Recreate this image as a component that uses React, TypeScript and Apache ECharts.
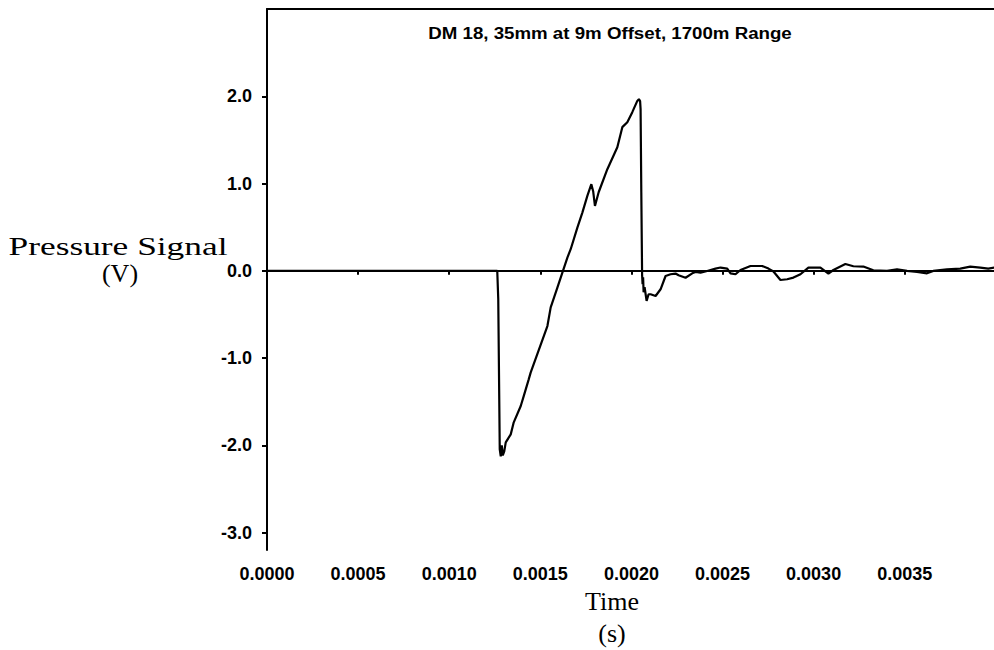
import React, { useEffect, useRef } from "react";
import * as echarts from "echarts";

const titleText = "DM 18, 35mm at 9m Offset, 1700m Range";
const yName = ["Pressure Signal", "(V)"];
const xName = ["Time", "(s)"];

const xTickValues = [0, 0.0005, 0.001, 0.0015, 0.002, 0.0025, 0.003, 0.0035];
const yTickValues = [-3, -2, -1, 0, 1, 2];

const timeS = [
  0, 0.0012637, 0.0012692, 0.0012747, 0.0012774, 0.0012829, 0.0012884, 0.0012939,
  0.0013021, 0.0013103, 0.0013377, 0.0013542, 0.0013926, 0.001409, 0.0014364,
  0.0014474, 0.0015389, 0.001557, 0.0015937, 0.0016486, 0.0016667, 0.0017034,
  0.0017308, 0.0017582, 0.0017801, 0.00179, 0.0017999, 0.0018202, 0.0018679,
  0.0019227, 0.0019501, 0.0019775, 0.0020049, 0.0020323, 0.0020411, 0.0020477,
  0.0020504, 0.0020543, 0.0020587, 0.0020614, 0.0020642, 0.0020669, 0.0020724,
  0.0020834, 0.0020943, 0.0021053, 0.0021327, 0.0021601, 0.0021875, 0.0022149,
  0.0022423, 0.0022588, 0.0022971, 0.0023339, 0.002352, 0.0023793, 0.0024161,
  0.0024616, 0.002489, 0.0025258, 0.0025439, 0.0025713, 0.0025987, 0.0026535,
  0.0027177, 0.0027522, 0.0027796, 0.002818, 0.0028547, 0.0028893, 0.0029277,
  0.0029715, 0.0030373, 0.0030812, 0.0031086, 0.0031743, 0.0032182, 0.003273,
  0.0033279, 0.003403, 0.0034578, 0.0035126, 0.0035675, 0.0036223, 0.0036568,
  0.0037319, 0.0038048, 0.0038597, 0.0039145, 0.0039584, 0.0039913,
];

const signalV = [
  0, 0, -0.327, -1.474, -2.047, -2.127, -2.001, -2.116,
  -2.07, -1.967, -1.875, -1.737, -1.55, -1.436, -1.244,
  -1.164, -0.633, -0.419, -0.193, 0.151, 0.247, 0.495,
  0.667, 0.858, 0.992, 0.912, 0.743, 0.9, 1.164,
  1.416, 1.646, 1.703, 1.818, 1.947, 1.967, 1.944,
  1.852, 0.9, -0.052, -0.155, -0.075, -0.247, -0.189,
  -0.346, -0.269, -0.269, -0.289, -0.212, -0.06, -0.04,
  -0.032, -0.052, -0.08, -0.029, -0.014, -0.021, -0.002,
  0.025, 0.037, 0.025, -0.029, -0.04, 0.009, 0.055,
  0.055, 0.025, -0.008, -0.106, -0.097, -0.078, -0.04,
  0.037, 0.037, -0.032, 0.009, 0.078, 0.052, 0.048,
  0.006, -0.002, 0.017, -0.002, -0.014, -0.029, -0.002,
  0.017, 0.025, 0.048, 0.037, 0.025, 0.037,
];

const X_MIN = 0;
const X_MAX = 0.00399;
const Y_MIN = -3.2;
const Y_MAX = 3.0;

export default function App() {
  const ref = useRef<HTMLDivElement>(null);

  useEffect(() => {
    const chart = echarts.init(ref.current!, null, { renderer: "svg" });
    const sans = "Liberation Sans, Arial, sans-serif";
    const serif = "Liberation Serif, Times New Roman, serif";
    const labelFont = {
      fontFamily: sans,
      fontWeight: "bold" as const,
      fontSize: 18,
      color: "#000",
    };
    const serifText = (text: string, x: number, y: number, scaleX: number) => ({
      type: "text",
      x,
      y,
      scaleX,
      style: {
        text,
        fontFamily: serif,
        fontSize: 26,
        fill: "#000",
        align: "center",
        verticalAlign: "middle",
      },
    });
    chart.setOption({
      animation: false,
      backgroundColor: "#fff",
      grid: { left: 267, top: 9, right: 0, bottom: 100, containLabel: false },
      xAxis: [
        {
          type: "value",
          min: X_MIN,
          max: X_MAX,
          position: "bottom",
          axisLine: { show: true, lineStyle: { color: "#000", width: 2 } },
          axisTick: {
            show: true,
            inside: false,
            length: 4,
            customValues: xTickValues,
            lineStyle: { color: "#000", width: 2 },
          },
          axisLabel: {
            ...labelFont,
            margin: 15,
            customValues: xTickValues,
            formatter: (v: number) => v.toFixed(4),
          },
          splitLine: { show: false },
        },
        {
          type: "value",
          min: X_MIN,
          max: X_MAX,
          position: "top",
          axisLine: { show: true, lineStyle: { color: "#000", width: 2 } },
          axisTick: { show: false },
          axisLabel: { show: false },
          splitLine: { show: false },
        },
      ],
      yAxis: {
        type: "value",
        min: Y_MIN,
        max: Y_MAX,
        axisLine: { show: true, lineStyle: { color: "#000", width: 2 } },
        axisTick: {
          show: true,
          inside: false,
          length: 5,
          customValues: yTickValues,
          lineStyle: { color: "#000", width: 2 },
        },
        axisLabel: {
          ...labelFont,
          margin: 15,
          customValues: yTickValues,
          formatter: (v: number) => v.toFixed(1),
        },
        splitLine: { show: false },
      },
      graphic: [
        {
          type: "text",
          x: 610,
          y: 33,
          scaleX: 1.1,
          style: {
            text: titleText,
            fontFamily: sans,
            fontWeight: "bold",
            fontSize: 17,
            fill: "#000",
            align: "center",
            verticalAlign: "middle",
          },
        },
        serifText(yName[0], 118, 246, 1.36),
        serifText(yName[1], 120, 273, 1),
        serifText(xName[0], 612, 601, 1),
        serifText(xName[1], 612, 633, 1),
      ],
      series: [
        {
          type: "line",
          xAxisIndex: 0,
          data: timeS.map((t, i) => [t, signalV[i]]),
          showSymbol: false,
          symbol: "none",
          lineStyle: { color: "#000", width: 2.2 },
          silent: true,
        },
      ],
    });
    return () => chart.dispose();
  }, []);

  return (
    <div
      ref={ref}
      style={{ position: "fixed", left: 0, top: 0, width: 994, height: 650, background: "#fff" }}
    />
  );
}
